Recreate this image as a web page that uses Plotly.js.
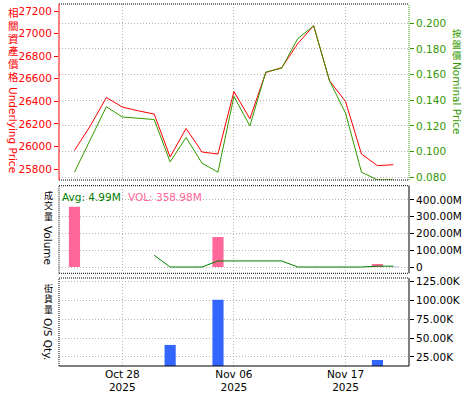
<!DOCTYPE html>
<html><head><meta charset="utf-8">
<script src="https://cdn.plot.ly/plotly-3.0.1.min.js"></script>
<style>html,body{margin:0;padding:0;background:#fff}#c{width:475px;height:400px}</style>
</head><body><div id="c"></div>
<script>
// ---- data ----
const dates = ['2025-10-23','2025-10-24','2025-10-27','2025-10-28','2025-10-29','2025-10-30','2025-10-31','2025-11-03','2025-11-04','2025-11-05','2025-11-06','2025-11-07','2025-11-10','2025-11-11','2025-11-12','2025-11-13','2025-11-14','2025-11-17','2025-11-18','2025-11-19','2025-11-20'];
const underlying = [25965, 26184, 26434, 26349, 26316, 26287, 25907, 26160, 25951, 25933, 26487, 26245, 26655, 26699, 26910, 27070, 26581, 26399, 25933, 25830, 25839];
const nominal = [0.084, 0.110, 0.135, 0.127, 0.126, 0.125, 0.092, 0.111, 0.091, 0.084, 0.143, 0.120, 0.162, 0.165, 0.188, 0.198, 0.155, 0.130, 0.084, 0.078, 0.078];
const volume = [358.98e6, null, null, null, null, null, null, null, null, 179e6, null, null, null, null, null, null, null, null, null, 18e6, 1.5e6];
const avgVol = [null, null, null, null, null, 70e6, 0, 0, 0, 36e6, 36e6, 36e6, 36e6, 36e6, 0, 0, 0, 0, 0, 4.99e6, 4.99e6];
const osQty = [null, null, null, null, null, null, 41000, null, null, 101000, null, null, null, null, null, null, null, null, null, 21000, null];
const xTickVals = ['2025-10-28', '2025-11-06', '2025-11-17'];
const xTickText = ['Oct 28<br>2025', 'Nov 06<br>2025', 'Nov 17<br>2025'];
const volTickVals = [0, 100e6, 200e6, 300e6, 400e6];
const volTickText = ['0', '100.00M', '200.00M', '300.00M', '400.00M'];
const osTickVals = [25000, 50000, 75000, 100000, 125000];
const osTickText = ['25.00K', '50.00K', '75.00K', '100.00K', '125.00K'];
const avgLabel = 'Avg: 4.99M';
const volLabel = 'VOL: 358.98M';

// ---- layout helpers ----
const L = 59, R = 409, T = 4, B = 366;
const px = x => (x - L) / (R - L);
const py = y => (B - y) / (B - T);
const FONT = 'DejaVu Sans, Verdana, sans-serif';
const CJK = 'Noto Sans CJK TC, sans-serif';
const FS = 10.5;
const RED = '#ff0000', GREEN = '#339900', DGREEN = '#008000', PINK = '#ff6699', BLUE = '#3366ff';
const grid = {showgrid: true, gridcolor: '#b4b4b4', griddash: '1px,2px', gridwidth: 1};

const annotations = [];
function vtitle(cjk, latin, x, y0, pitch, latinY, color, cjkSize, latinSize) {
  [...cjk].forEach((ch, i) => annotations.push({xref: 'paper', yref: 'paper', x: px(x), y: py(y0 + i * pitch),
    text: ch, showarrow: false, xanchor: 'center', yanchor: 'middle', borderpad: 0, height: Math.floor(pitch) - 1,
    font: {family: CJK, size: cjkSize, color: color}}));
  annotations.push({xref: 'paper', yref: 'paper', x: px(x), y: py(latinY), text: latin, textangle: 90,
    showarrow: false, xanchor: 'center', yanchor: 'middle', borderpad: 0,
    font: {family: FONT, size: latinSize, color: color}});
}
vtitle('相關資產價格', 'Underlying Price', 13, 13, 12.6, 130, RED, 10.5, 10.5);
vtitle('按盤價', 'Nominal Price', 457, 33, 11, 98, GREEN, 9.5, 10.5);
vtitle('成交量', 'Volume', 48, 195, 10.5, 245, '#000', 9, 10.5);
vtitle('街貨量', 'O/S Qty.', 48, 288, 10.5, 339, '#000', 9, 10.5);
annotations.push({xref: 'paper', yref: 'paper', x: px(61), y: py(197), text: avgLabel, showarrow: false,
  xanchor: 'left', yanchor: 'middle', borderpad: 0, font: {family: FONT, size: FS, color: DGREEN}});
annotations.push({xref: 'paper', yref: 'paper', x: px(127), y: py(197), text: volLabel, showarrow: false,
  xanchor: 'left', yanchor: 'middle', borderpad: 0, font: {family: FONT, size: FS, color: PINK}});

const d1 = [py(180), 1], d2 = [py(273.3), py(185.7)], d3 = [0, py(278)];
function frame(dom, top, bottom, left, right) {
  const s = [];
  const mk = (x0, y0, x1, y1, st) => s.push({type: 'line', xref: 'paper', yref: 'paper', x0, y0, x1, y1,
    line: {color: st[0], width: 1, dash: st[1]}});
  mk(0, dom[1], 1, dom[1], top); mk(0, dom[0], 1, dom[0], bottom);
  mk(0, dom[0], 0, dom[1], left); mk(1, dom[0], 1, dom[1], right);
  return s;
}
const DOT = '1px,1px';
const shapes = [].concat(
  frame(d1, ['#000', DOT], ['#000', DOT], [RED, 'solid'], [GREEN, DOT]),
  frame(d2, ['#000', DOT], ['#000', DOT], ['#000', DOT], ['#000', 'solid']),
  frame(d3, ['#000', DOT], ['#000', 'solid'], ['#000', DOT], ['#000', 'solid'])
);

const xr = [-0.97, 20.98];
const xbase = Object.assign({type: 'category', categoryorder: 'array', categoryarray: dates, range: xr,
  tickmode: 'array', tickvals: xTickVals, zeroline: false, showline: false, ticks: ''}, grid);

const volColors = volume.map((v, i) => i === volume.length - 1 ? BLUE : PINK);

const traces = [
  {x: dates, y: underlying, type: 'scatter', mode: 'lines', line: {color: RED, width: 1}, xaxis: 'x2', yaxis: 'y'},
  {x: dates, y: nominal, type: 'scatter', mode: 'lines', line: {color: GREEN, width: 1}, xaxis: 'x2', yaxis: 'y2'},
  {x: dates, y: volume, type: 'bar', marker: {color: volColors}, width: 0.7, xaxis: 'x3', yaxis: 'y3'},
  {x: dates, y: avgVol, type: 'scatter', mode: 'lines', line: {color: DGREEN, width: 1}, connectgaps: false, xaxis: 'x3', yaxis: 'y3'},
  {x: dates, y: osQty, type: 'bar', marker: {color: BLUE}, width: 0.7, xaxis: 'x', yaxis: 'y4'}
];

const layout = {
  width: 475, height: 400, margin: {l: L, r: 475 - R, t: T, b: 400 - B},
  paper_bgcolor: '#fff', plot_bgcolor: '#fff', showlegend: false, bargap: 0.3,
  font: {family: FONT, size: FS, color: '#000'},
  xaxis: Object.assign({}, xbase, {anchor: 'y4', domain: [0, 1], ticktext: xTickText,
    tickfont: {family: FONT, size: FS, color: '#000'}}),
  xaxis2: Object.assign({}, xbase, {anchor: 'y', matches: 'x', showticklabels: false}),
  xaxis3: Object.assign({}, xbase, {anchor: 'y3', matches: 'x', showticklabels: false}),
  yaxis: {domain: d1, anchor: 'x2', side: 'left', range: [25703, 27262], dtick: 200, tick0: 25800, tickformat: 'd',
    showgrid: false, zeroline: false, ticks: 'outside', ticklen: 4, tickcolor: RED,
    tickfont: {family: FONT, size: FS, color: RED}, showline: false},
  yaxis2: Object.assign({overlaying: 'y', side: 'right', anchor: 'x2', range: [0.0779, 0.2150], dtick: 0.02, tick0: 0.08,
    tickformat: '.3f', zeroline: false, ticks: 'outside', ticklen: 4, tickcolor: GREEN,
    tickfont: {family: FONT, size: FS, color: GREEN}, showline: false}, grid),
  yaxis3: Object.assign({domain: d2, anchor: 'x3', side: 'right', range: [-37.6e6, 485e6], tickmode: 'array',
    tickvals: volTickVals, ticktext: volTickText, zeroline: false, ticks: 'outside', ticklen: 4, tickcolor: '#000',
    tickfont: {family: FONT, size: FS, color: '#000'}, showline: false}, grid),
  yaxis4: Object.assign({domain: d3, anchor: 'x', side: 'right', range: [13000, 129900], tickmode: 'array',
    tickvals: osTickVals, ticktext: osTickText, zeroline: false, ticks: 'outside', ticklen: 4, tickcolor: '#000',
    tickfont: {family: FONT, size: FS, color: '#000'}, showline: false}, grid),
  annotations: annotations,
  shapes: shapes
};
Plotly.newPlot('c', traces, layout, {staticPlot: true, displayModeBar: false});
</script></body></html>
